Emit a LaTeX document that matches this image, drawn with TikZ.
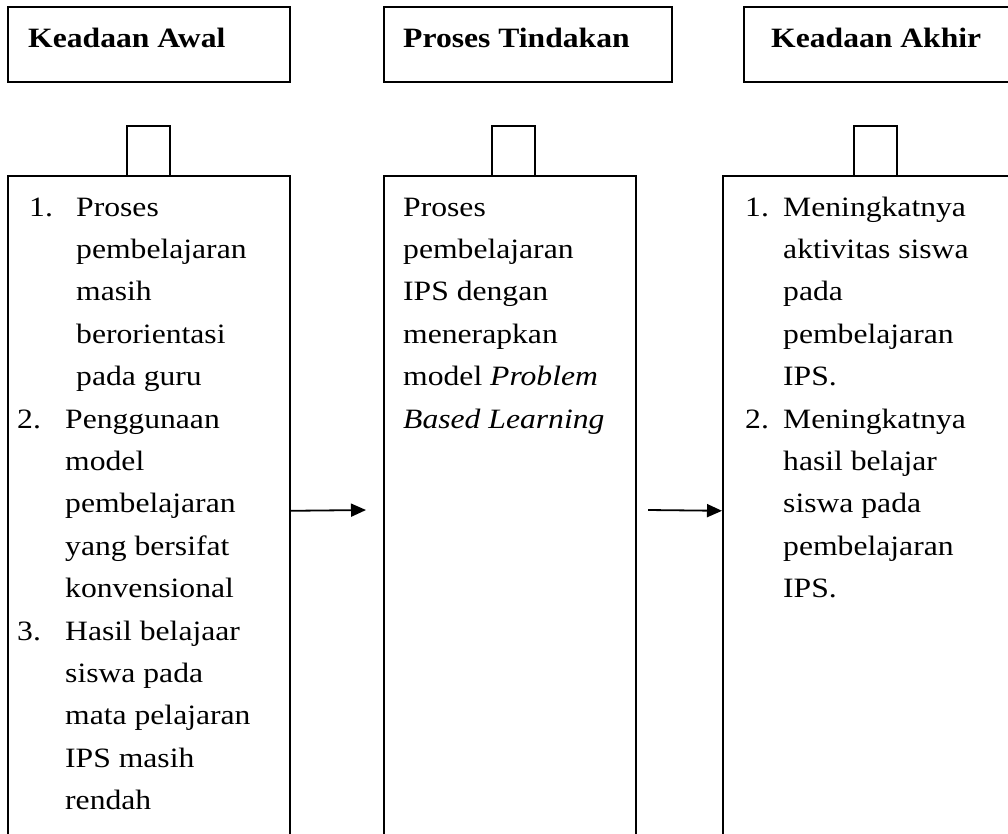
\documentclass[tikz,border=0pt]{standalone}
\usepackage{fontspec}
\setmainfont{Liberation Serif}[FakeStretch=1.13]
\usepackage{tikz}
\usetikzlibrary{positioning, arrows.meta}

\tikzset{
  kotak/.style={rectangle, draw, line width=1.6pt, inner sep=0pt, anchor=north west},
  teks/.style={inner sep=0pt, anchor=base west, align=left, font=\fontsize{28}{42.4}\selectfont},
  judul/.style={inner sep=0pt, anchor=base west, font=\fontsize{28}{32}\selectfont\bfseries},
  panah/.style={-{Triangle[length=15pt, width=13pt]}, line width=1.8pt},
}

\begin{document}
\begin{tikzpicture}[x=1pt, y=-1pt]
            \useasboundingbox (0,0) rectangle (1008,833);
            \clip (0,0) rectangle (1008,833);
            \pgfmathsetmacro{\dy}{42.4} % line spacing
            \pgfmathsetmacro{\by}{216}  % baseline of the first line

            % header boxes
            \node[kotak, minimum width=282pt, minimum height=75pt] (hAwal) at (7,6) {};
            \node[kotak, minimum width=288pt, minimum height=75pt] (hTindakan) at (383,6) {};
            \node[kotak, minimum width=272pt, minimum height=75pt] (hAkhir) at (743,6) {};
            \node[judul] (jAwal) at (28,47) {Keadaan Awal};
            \node[judul] (jTindakan) at (403,47) {Proses Tindakan};
            \node[judul] (jAkhir) at (771,47) {Keadaan Akhir};

            % small stubs above the boxes
            \node[kotak, minimum width=43pt, minimum height=50pt] (sAwal) at (126,125) {};
            \node[kotak, minimum width=43pt, minimum height=50pt] (sTindakan) at (491,125) {};
            \node[kotak, minimum width=43pt, minimum height=50pt] (sAkhir) at (853,125) {};

            % main boxes, cut off at the bottom
            \node[kotak, minimum width=282pt, minimum height=670pt] (bAwal) at (7,175) {};
            \node[kotak, minimum width=252pt, minimum height=670pt] (bTindakan) at (383,175) {};
            \node[kotak, minimum width=293pt, minimum height=670pt] (bAkhir) at (722,175) {};

            % keadaan awal (base anchor sits on the last line)
            \node[teks] (n1) at (29,\by) {1.};
            \node[teks] (t1) at (76,\by+4*\dy) {Proses\\pembelajaran\\masih\\berorientasi\\pada guru};
            \node[teks] (n2) at (17,\by+5*\dy) {2.};
            \node[teks] (t2) at (65,\by+9*\dy) {Penggunaan\\model\\pembelajaran\\yang bersifat\\konvensional};
            \node[teks] (n3) at (17,\by+10*\dy) {3.};
            \node[teks] (t3) at (65,\by+14*\dy) {Hasil belajaar\\siswa pada\\mata pelajaran\\IPS masih\\rendah};

            % proses tindakan
            \node[teks] (tp) at (403,\by+5*\dy) {Proses\\pembelajaran\\IPS dengan\\menerapkan\\model \textit{Problem}\\\textit{Based Learning}};

            % keadaan akhir
            \node[teks] (m1) at (745,\by) {1.};
            \node[teks] (u1) at (783,\by+4*\dy) {Meningkatnya\\aktivitas siswa\\pada\\pembelajaran\\IPS.};
            \node[teks] (m2) at (745,\by+5*\dy) {2.};
            \node[teks] (u2) at (783,\by+9*\dy) {Meningkatnya\\hasil belajar\\siswa pada\\pembelajaran\\IPS.};

            % arrows
            \coordinate (a1) at (366,510);
            \coordinate (a2) at (648,510);
            \draw[panah] (bAwal.east) -- (a1);
            \draw[panah] (a2) -- (bAkhir.west);
        \end{tikzpicture}
\end{document}
